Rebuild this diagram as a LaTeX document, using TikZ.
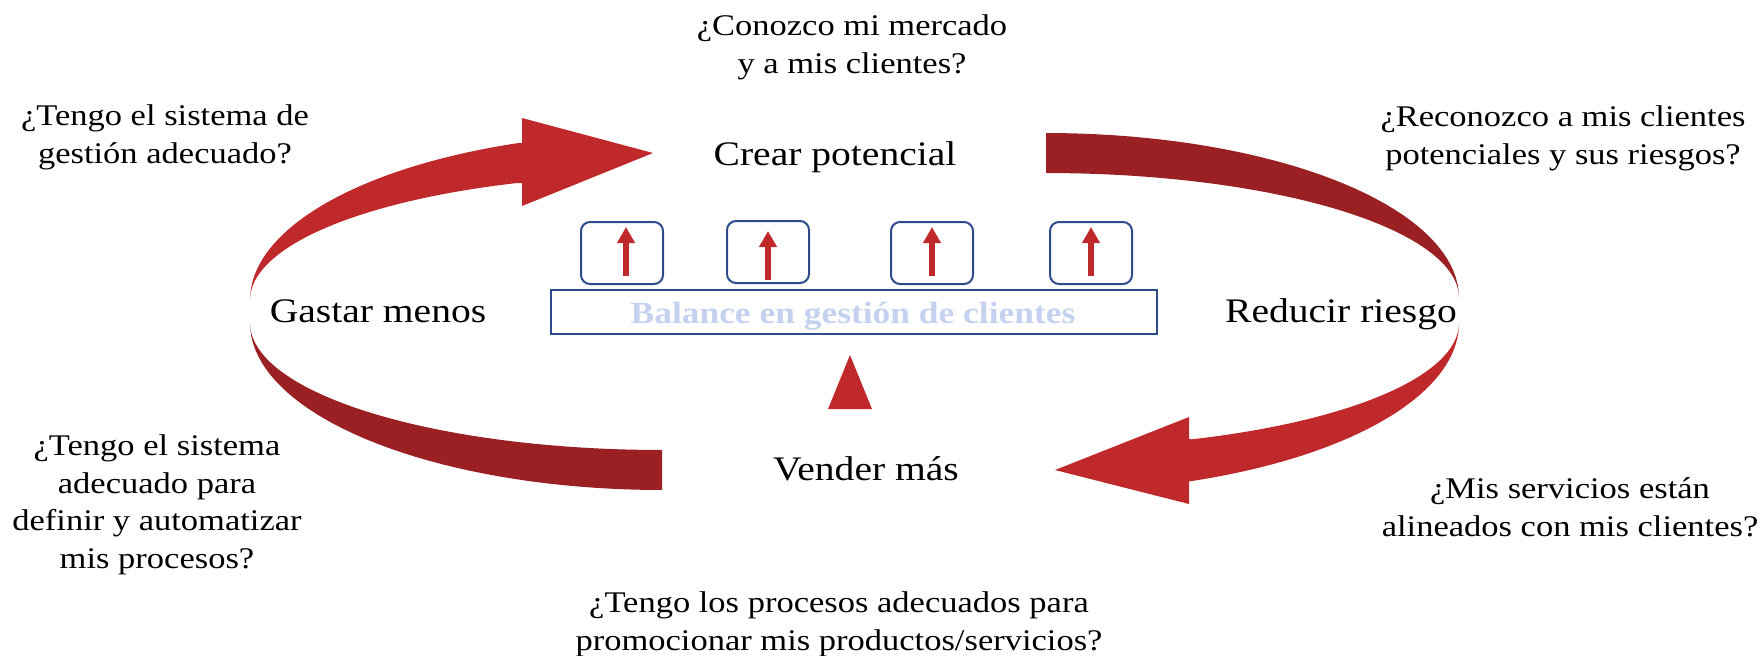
\documentclass[tikz,border=0pt]{standalone}
\usepackage{fontspec}
\setmainfont[FakeStretch=1.15]{Liberation Serif}
\usetikzlibrary{arrows.meta}
\definecolor{redA}{HTML}{C0292B}
\definecolor{redB}{HTML}{9A2023}
\definecolor{boxblue}{HTML}{2E4C8C}
\definecolor{lightblue}{HTML}{C4D1EF}
\tikzset{
  q/.style={font=\fontsize{15}{18.75}\selectfont, align=center, inner sep=0pt, anchor=base},
  lbl/.style={font=\fontsize{17.2}{20}\selectfont, inner sep=0pt, anchor=base},
  smallbox/.style={draw=boxblue, line width=1pt, rounded corners=4.5pt, minimum width=41pt, minimum height=31pt, inner sep=0pt},
  balancebox/.style={draw=boxblue, line width=1.2pt, minimum width=303pt, minimum height=22pt, inner sep=0pt},
  uparrow/.style={draw=redA, line width=3pt, -{Triangle[length=8pt,width=8.5pt]}},
}
\begin{document}
\begin{tikzpicture}[x=0.5pt,y=-0.5pt]
\useasboundingbox (0,0) rectangle (1760,655);

% curved arrows
\fill[redA] (250,300) -- plot[domain=180:110.46,samples=40] ({662+412*cos(\x)},{300-167.5*sin(\x)})
  -- (522,143) -- (522,118) -- (653,153) -- (522,206) -- (522,183) -- (518,183)
  -- plot[domain=110.46:180,samples=40] ({662+412*cos(\x)},{300-125*sin(\x)}) -- cycle;
\fill[redB] (250,323) -- plot[domain=180:90,samples=40] ({662+412*cos(\x)},{323+167*sin(\x)})
  -- (662,450) -- plot[domain=90:180,samples=40] ({662+412*cos(\x)},{323+127*sin(\x)}) -- cycle;
\fill[redB] (1046,133) -- plot[domain=90:0,samples=40] ({1046+413*cos(\x)},{298-165*sin(\x)})
  -- plot[domain=0:90,samples=40] ({1046+413*cos(\x)},{298-125*sin(\x)}) -- cycle;
\fill[redA] (1459,323) -- plot[domain=0:69.34,samples=40] ({1046+413*cos(\x)},{323+168.9*sin(\x)})
  -- (1189,481) -- (1189,504) -- (1055,470) -- (1189,417) -- (1189,439)
  -- plot[domain=69.34:0,samples=40] ({1046+413*cos(\x)},{323+124.3*sin(\x)}) -- cycle;

% balance
\node[balancebox] (bal) at (854,312) {};
\node[font=\bfseries\fontsize{15.4}{18}\selectfont, text=lightblue, inner sep=0pt, anchor=base] (baltext) at (853,323) {Balance en gestión de clientes};
\node[smallbox] (b1) at (622,253) {};
\node[smallbox] (b2) at (768,252) {};
\node[smallbox] (b3) at (932,253) {};
\node[smallbox] (b4) at (1091,253) {};
\coordinate (a1s) at (626,276); \coordinate (a1t) at (626,227);
\coordinate (a2s) at (768,280); \coordinate (a2t) at (768,231);
\coordinate (a3s) at (932,276); \coordinate (a3t) at (932,227);
\coordinate (a4s) at (1091,276); \coordinate (a4t) at (1091,227);
\draw[uparrow] (a1s) -- (a1t);
\draw[uparrow] (a2s) -- (a2t);
\draw[uparrow] (a3s) -- (a3t);
\draw[uparrow] (a4s) -- (a4t);
\fill[redA] (850,355) -- (872,409) -- (828,409) -- cycle;

% labels
\node[lbl] (crear) at (835,165) {Crear potencial};
\node[lbl] (gastar) at (378,322) {Gastar menos};
\node[lbl] (reducir) at (1341,322) {Reducir riesgo};
\node[lbl] (vender) at (866,480) {Vender más};

% questions (base = baseline of last line)
\node[q] (q1) at (852,73) {¿Conozco mi mercado\\y a mis clientes?};
\node[q] (q2) at (165,163) {¿Tengo el sistema de\\gestión adecuado?};
\node[q] (q3) at (1563,164) {¿Reconozco a mis clientes\\potenciales y sus riesgos?};
\node[q] (q4) at (157,568) {¿Tengo el sistema\\adecuado para\\definir y automatizar\\mis procesos?};
\node[q] (q5) at (1570,536) {¿Mis servicios están\\alineados con mis clientes?};
\node[q] (q6) at (839,650) {¿Tengo los procesos adecuados para\\promocionar mis productos/servicios?};
\end{tikzpicture}
\end{document}
